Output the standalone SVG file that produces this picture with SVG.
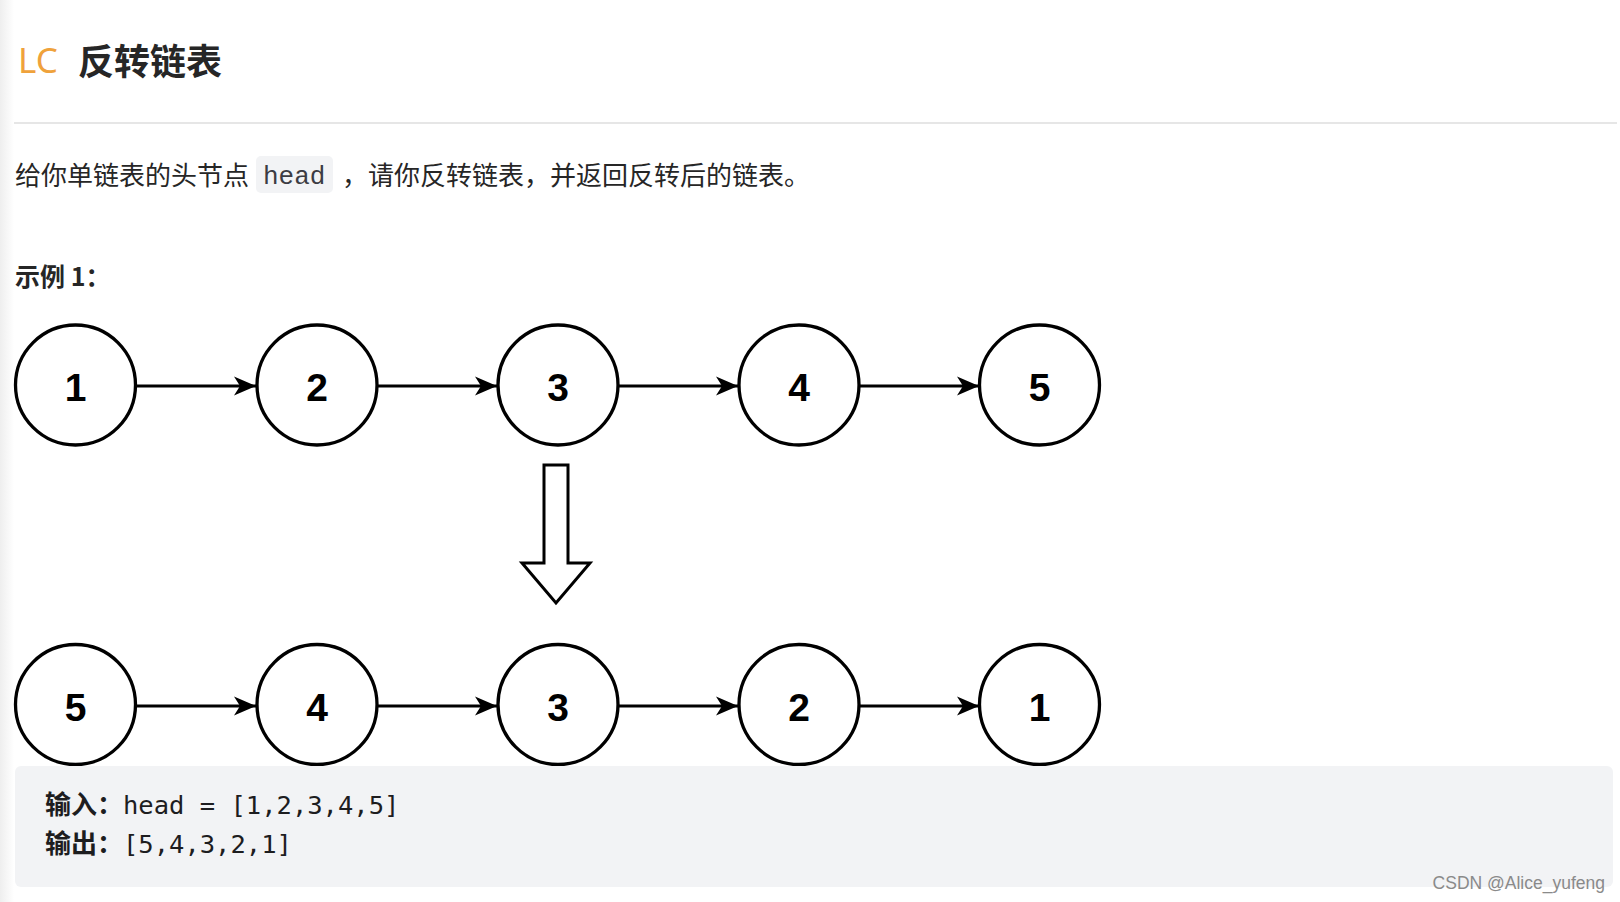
<svg xmlns="http://www.w3.org/2000/svg" width="1620" height="902" viewBox="0 0 1620 902">
  <style>
    .node circle { fill: #ffffff; stroke: #000000; stroke-width: 3.3; }
    .node text { font-family: "Liberation Sans", Arial, sans-serif; font-weight: bold; font-size: 39px; fill: #000000; text-anchor: middle; }
    .edge { stroke: #000000; stroke-width: 3; fill: none; marker-end: url(#arrow); }
    .cjk { font-family: "Noto Sans CJK SC", "Noto Sans", sans-serif; }
    .mono { font-family: "DejaVu Sans Mono", "Liberation Mono", monospace; }
  </style>
  <defs>
    <marker id="arrow" markerUnits="userSpaceOnUse" viewBox="-23 -10 24 20" refX="0" refY="0" markerWidth="24" markerHeight="20" orient="auto">
      <path d="M0,0 L-22,-9.5 L-16,0 L-22,9.5 Z" fill="#000000"/>
    </marker>
    <linearGradient id="leftShade" x1="0" y1="0" x2="1" y2="0">
      <stop offset="0" stop-color="#eeeeee"/>
      <stop offset="1" stop-color="#ffffff"/>
    </linearGradient>
  </defs>

  <rect x="0" y="0" width="1620" height="902" fill="#ffffff"/>
  <rect x="0" y="0" width="14" height="902" fill="url(#leftShade)"/>

  <!-- header -->
  <g id="header">
    <text x="18" y="73" font-family="'Noto Sans', 'Open Sans', sans-serif" font-size="35" fill="#efa23b">LC</text>
    <text x="78" y="75" class="cjk" font-size="36" font-weight="bold" fill="#262626">反转链表</text>
    <rect x="14" y="122" width="1603" height="2" fill="#e6e6e6"/>
  </g>

  <!-- description -->
  <g id="description">
    <text x="15" y="185" class="cjk" font-size="26" fill="#262626">给你单链表的头节点</text>
    <rect x="256" y="156" width="77" height="37" rx="5" fill="#f2f3f5"/>
    <text x="263" y="184" font-family="'Liberation Mono', 'Courier New', monospace" font-size="26" fill="#3c3c43">head</text>
    <text x="342" y="185" class="cjk" font-size="26" fill="#262626">，请你反转链表，并返回反转后的链表。</text>
    <text x="15" y="286" class="cjk" font-size="25" font-weight="bold" fill="#262626">示例 1：</text>
  </g>

  <!-- connectors -->
  <g id="connectors">
    <line class="edge" x1="137" y1="386" x2="256" y2="386"/>
    <line class="edge" x1="378" y1="386" x2="497" y2="386"/>
    <line class="edge" x1="619" y1="386" x2="738" y2="386"/>
    <line class="edge" x1="860" y1="386" x2="979" y2="386"/>
    <line class="edge" x1="137" y1="706" x2="256" y2="706"/>
    <line class="edge" x1="378" y1="706" x2="497" y2="706"/>
    <line class="edge" x1="619" y1="706" x2="738" y2="706"/>
    <line class="edge" x1="860" y1="706" x2="979" y2="706"/>
    <polygon id="bigArrow" points="544,465 568,465 568,563 590,563 556,603 522,563 544,563" fill="#ffffff" stroke="#000000" stroke-width="3" stroke-linejoin="miter"/>
  </g>

  <!-- top row -->
  <g id="top1" class="node"><circle cx="75.5" cy="385" r="60"/><text x="75.5" y="401">1</text></g>
  <g id="top2" class="node"><circle cx="317" cy="385" r="60"/><text x="317" y="401">2</text></g>
  <g id="top3" class="node"><circle cx="558" cy="385" r="60"/><text x="558" y="401">3</text></g>
  <g id="top4" class="node"><circle cx="799" cy="385" r="60"/><text x="799" y="401">4</text></g>
  <g id="top5" class="node"><circle cx="1039.5" cy="385" r="60"/><text x="1039.5" y="401">5</text></g>

  <!-- bottom row -->
  <g id="bot5" class="node"><circle cx="75.5" cy="704.5" r="60"/><text x="75.5" y="720.5">5</text></g>
  <g id="bot4" class="node"><circle cx="317" cy="704.5" r="60"/><text x="317" y="720.5">4</text></g>
  <g id="bot3" class="node"><circle cx="558" cy="704.5" r="60"/><text x="558" y="720.5">3</text></g>
  <g id="bot2" class="node"><circle cx="799" cy="704.5" r="60"/><text x="799" y="720.5">2</text></g>
  <g id="bot1" class="node"><circle cx="1039.5" cy="704.5" r="60"/><text x="1039.5" y="720.5">1</text></g>

  <!-- example box -->
  <g id="exampleBox">
    <rect x="15" y="766" width="1598" height="121" rx="6" fill="#f2f3f5"/>
    <text x="45" y="814" class="cjk" font-size="26" font-weight="bold" fill="#1d1d1f">输入：</text>
    <text x="123" y="814" class="mono" font-size="25.5" fill="#1d1d1f">head = [1,2,3,4,5]</text>
    <text x="45" y="853" class="cjk" font-size="26" font-weight="bold" fill="#1d1d1f">输出：</text>
    <text x="123" y="853" class="mono" font-size="25.5" fill="#1d1d1f">[5,4,3,2,1]</text>
  </g>

  <text id="watermark" x="1605" y="889" text-anchor="end" font-family="'Liberation Sans', Arial, sans-serif" font-size="17.5" fill="#8a8a8a">CSDN @Alice_yufeng</text>
</svg>
